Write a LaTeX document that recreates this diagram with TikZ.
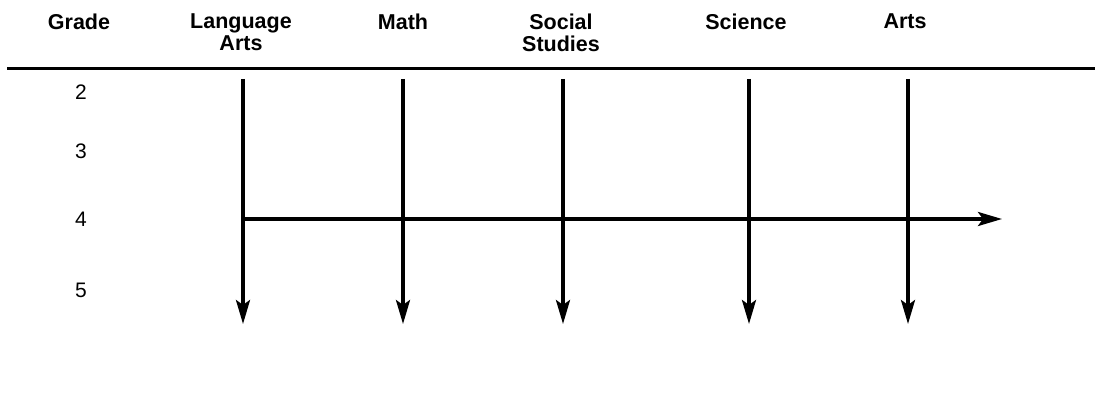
\documentclass[tikz,border=0pt]{standalone}
\usepackage{fontspec}
\setmainfont{Liberation Sans}
\usetikzlibrary{arrows.meta}
\tikzset{
  head/.style={anchor=north, inner sep=0pt, align=center, font=\fontsize{21.5}{21.5}\selectfont\bfseries},
  gnum/.style={inner sep=0pt, font=\fontsize{21}{21}\selectfont},
  flow/.style={line width=3.5pt, -{Stealth[length=24pt, width=14pt, inset=5pt]}},
  rule/.style={line width=3pt}
}
\begin{document}
\begin{tikzpicture}[x=1pt, y=-1pt]
\useasboundingbox (0,0) rectangle (1095,404);
% headers
\node[head] (hg) at (79,14) {Grade};
\node[head] (hla) at (241,14) {Language\\Arts};
\node[head] (hm) at (403,14) {Math};
\node[head] (hss) at (561,14) {Social\\Studies};
\node[head] (hsc) at (746,14) {Science};
\node[head] (har) at (905,14) {Arts};
% rule
\coordinate (rl) at (7,69);
\coordinate (rr) at (1095,69);
\draw[rule] (rl) -- (rr);
% grade numbers
\node[gnum] (g2) at (81,92) {2};
\node[gnum] (g3) at (81,151) {3};
\node[gnum] (g4) at (81,219) {4};
\node[gnum] (g5) at (81,290) {5};
% arrow coordinates
\coordinate (la0) at (243,79); \coordinate (la1) at (243,324);
\coordinate (m0) at (403,79);  \coordinate (m1) at (403,324);
\coordinate (ss0) at (563,79); \coordinate (ss1) at (563,324);
\coordinate (sc0) at (749,79); \coordinate (sc1) at (749,324);
\coordinate (ar0) at (908,79); \coordinate (ar1) at (908,324);
\coordinate (h0) at (243,219); \coordinate (h1) at (1002,219);
\draw[flow] (la0) -- (la1);
\draw[flow] (m0) -- (m1);
\draw[flow] (ss0) -- (ss1);
\draw[flow] (sc0) -- (sc1);
\draw[flow] (ar0) -- (ar1);
\draw[flow] (h0) -- (h1);
\end{tikzpicture}
\end{document}
